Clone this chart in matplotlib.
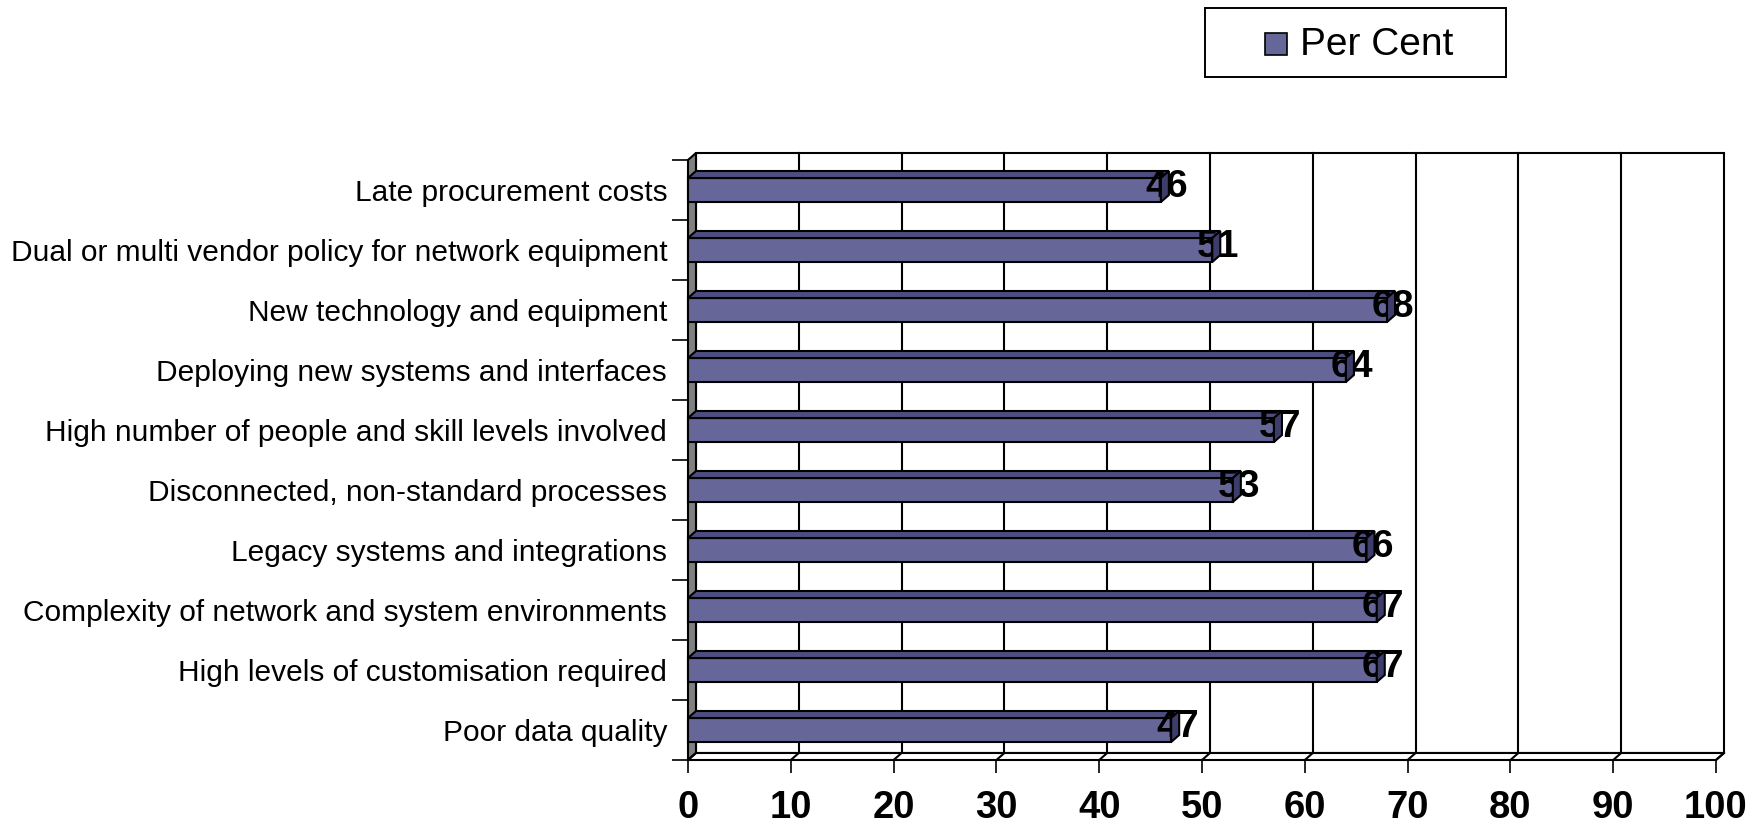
import matplotlib
matplotlib.use("Agg")
import matplotlib.pyplot as plt
from matplotlib.patches import Polygon, Rectangle

plt.rcParams['font.family'] = ['Liberation Sans', 'DejaVu Sans']

# Datos del grafico
categorias = [
    'Late procurement costs',
    'Dual or multi vendor policy for network equipment',
    'New technology and equipment',
    'Deploying new systems and interfaces',
    'High number of people and skill levels involved',
    'Disconnected, non-standard processes',
    'Legacy systems and integrations',
    'Complexity of network and system environments',
    'High levels of customisation required',
    'Poor data quality',
]
valores = [46, 51, 68, 64, 57, 53, 66, 67, 67, 47]
ticks_x = list(range(0, 101, 10))
serie = 'Per Cent'

# Colores estilo Excel 3D
c_frente = '#666699'
c_arriba = '#4d4d80'
c_punta = '#3d3d6b'
c_pared = '#808080'

W, H = 1762, 827
fig = plt.figure(figsize=(W / 100, H / 100), dpi=100)
ax = fig.add_axes([688 / W, 67 / H, 1028 / W, 600 / H])

n = len(categorias)
xmax = 100
ax.set_xlim(0, xmax)
ax.set_ylim(-0.5, n - 0.5)

# profundidad del efecto 3D en unidades de datos (8 px a la derecha, 7 px arriba)
DX = 8 * xmax / 1028
DY = 7 * n / 600
y0, y1 = -0.5, n - 0.5
lw = 1.5

# pared del fondo y grilla
ax.add_patch(Rectangle((DX, y0 + DY), xmax, n, facecolor='white', edgecolor='black',
                       lw=lw, zorder=1, clip_on=False))
for t in ticks_x[1:-1]:
    ax.plot([t + DX, t + DX], [y0 + DY, y1 + DY], color='black', lw=lw, zorder=1.5,
            clip_on=False)

# pared lateral gris
ax.add_patch(Polygon([(0, y0), (DX, y0 + DY), (DX, y1 + DY), (0, y1)], closed=True,
                     facecolor=c_pared, edgecolor='black', lw=lw, zorder=2, clip_on=False))
# piso
ax.add_patch(Polygon([(0, y0), (xmax, y0), (xmax + DX, y0 + DY), (DX, y0 + DY)], closed=True,
                     facecolor='white', edgecolor='black', lw=lw, zorder=2, clip_on=False))
for t in ticks_x:
    ax.plot([t, t + DX], [y0, y0 + DY], color='black', lw=lw, zorder=2.1, clip_on=False)

# barras
alto = 0.4
for i, v in enumerate(valores):
    c = n - 1 - i
    b, tp = c - alto / 2, c + alto / 2
    ax.add_patch(Rectangle((0, b), v, alto, facecolor=c_frente, edgecolor='black',
                           lw=lw, zorder=3, clip_on=False))
    ax.add_patch(Polygon([(0, tp), (v, tp), (v + DX, tp + DY), (DX, tp + DY)], closed=True,
                         facecolor=c_arriba, edgecolor='black', lw=lw, zorder=3,
                         clip_on=False))
    ax.text(v + 0.6, c + 0.05, str(v), ha='center', va='center', fontsize=27.5,
            fontweight='bold', color='black', zorder=4)
    ax.add_patch(Polygon([(v, b), (v + DX, b + DY), (v + DX, tp + DY), (v, tp)], closed=True,
                         facecolor=c_punta, edgecolor='black', lw=lw, zorder=5,
                         clip_on=False))

# ejes
for s in ax.spines.values():
    s.set_visible(False)
ax.set_xticks(ticks_x)
ax.set_xticklabels([str(t) for t in ticks_x], fontsize=27.5, fontweight='bold')
ax.tick_params(axis='x', direction='out', length=9.4, width=1.2, pad=12)

ax.set_yticks([k - 0.5 for k in range(n + 1)])
ax.set_yticklabels([])
ax.tick_params(axis='y', which='major', direction='out', length=11.5, width=1.2)
ax.set_yticks(list(range(n)), minor=True)
ax.set_yticklabels(categorias[::-1], minor=True, fontsize=21.5)
ax.tick_params(axis='y', which='minor', length=0, pad=15)

# leyenda
fig.add_artist(Rectangle((1205 / W, 1 - 77 / H), 301 / W, 69 / H, transform=fig.transFigure,
                         facecolor='white', edgecolor='black', lw=1.4))
fig.add_artist(Rectangle((1265 / W, 1 - 55 / H), 22 / W, 22 / H, transform=fig.transFigure,
                         facecolor=c_frente, edgecolor='black', lw=1.2))
fig.text(1300 / W, 1 - 45 / H, serie, fontsize=28, ha='left', va='center')

fig.savefig('out.png', dpi=100, facecolor='white')
